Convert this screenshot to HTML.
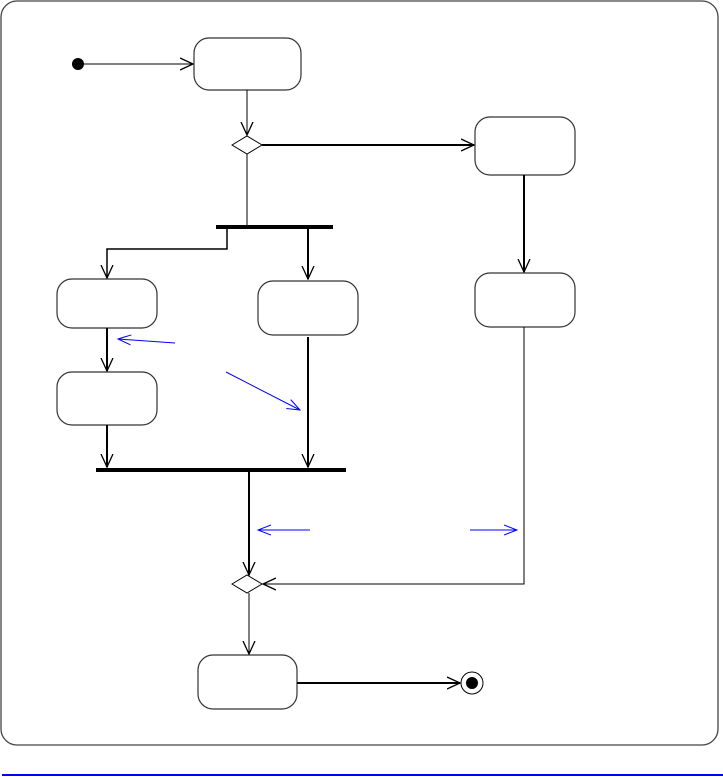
<!DOCTYPE html>
<html><head><style>body{margin:0;background:#fff}svg{display:block}</style></head><body>
<svg width="723" height="777" viewBox="0 0 723 777" xmlns="http://www.w3.org/2000/svg">
<defs>
<marker id="a" markerWidth="14" markerHeight="14" refX="13" refY="7" orient="auto" markerUnits="userSpaceOnUse">
<path d="M0,1 L13,7 L0,13" fill="none" stroke="#000" stroke-width="1.3"/></marker>
<marker id="b" markerWidth="14" markerHeight="14" refX="13" refY="7" orient="auto" markerUnits="userSpaceOnUse">
<path d="M0,2 L13,7 L0,12" fill="none" stroke="#00f" stroke-width="1"/></marker>
</defs>
<rect x="1" y="1" width="717" height="744" rx="16" fill="#fff" stroke="#444" stroke-width="1.3"/>
<line x1="2" y1="775" x2="723" y2="775" stroke="#00f" stroke-width="2"/>
<g fill="#fff" stroke="#333" stroke-width="1.2">
<rect x="194" y="38" width="107" height="52" rx="15"/>
<rect x="475" y="117" width="100" height="58" rx="15"/>
<rect x="475" y="273" width="100" height="54" rx="15"/>
<rect x="57" y="279" width="100" height="49" rx="15"/>
<rect x="258" y="281" width="100" height="54" rx="15"/>
<rect x="57" y="372" width="100" height="53" rx="15"/>
<rect x="198" y="655" width="99" height="54" rx="15"/>
</g>
<circle cx="78" cy="64" r="6" fill="#000"/>
<g fill="none" stroke="#000">
<line x1="84" y1="64" x2="193" y2="64" stroke-width="1" marker-end="url(#a)"/>
<line x1="247" y1="90" x2="247" y2="135" stroke-width="1" marker-end="url(#a)"/>
<path d="M232,145 L247,136 L262,145 L247,154 Z" fill="#fff" stroke-width="1"/>
<line x1="262" y1="145" x2="474" y2="145" stroke-width="2" marker-end="url(#a)"/>
<line x1="524" y1="175" x2="524" y2="272" stroke-width="2" marker-end="url(#a)"/>
<line x1="247" y1="154" x2="247" y2="226" stroke-width="1"/>
<rect x="216" y="225" width="117" height="4" fill="#000" stroke="none"/>
<path d="M227,229 V249 H107 V278" stroke-width="1.5" marker-end="url(#a)"/>
<line x1="308" y1="229" x2="308" y2="279" stroke-width="2" marker-end="url(#a)"/>
<line x1="107" y1="328" x2="107" y2="371" stroke-width="2" marker-end="url(#a)"/>
<line x1="107" y1="425" x2="107" y2="467" stroke-width="2" marker-end="url(#a)"/>
<line x1="308" y1="337" x2="308" y2="467" stroke-width="2" marker-end="url(#a)"/>
<rect x="96" y="468" width="250" height="4" fill="#000" stroke="none"/>
<line x1="249" y1="472" x2="249" y2="575" stroke-width="2" marker-end="url(#a)"/>
<path d="M524,327 V584 H263" stroke-width="1" marker-end="url(#a)"/>
<path d="M232,584 L247,575 L262,584 L247,593 Z" fill="#fff" stroke-width="1"/>
<line x1="249" y1="593" x2="249" y2="654" stroke-width="1" marker-end="url(#a)"/>
<line x1="297" y1="683" x2="460" y2="683" stroke-width="2" marker-end="url(#a)"/>
<circle cx="472" cy="683" r="11" fill="#fff" stroke-width="1"/>
<circle cx="472" cy="683" r="6" fill="#000" stroke="none"/>
</g>
<g stroke="#00f" stroke-width="1" fill="none">
<line x1="175" y1="343" x2="118" y2="339" marker-end="url(#b)"/>
<line x1="226" y1="372" x2="300" y2="410" marker-end="url(#b)"/>
<line x1="310" y1="530" x2="258" y2="530" marker-end="url(#b)"/>
<line x1="470" y1="530" x2="517" y2="530" marker-end="url(#b)"/>
</g>
</svg>
</body></html>
